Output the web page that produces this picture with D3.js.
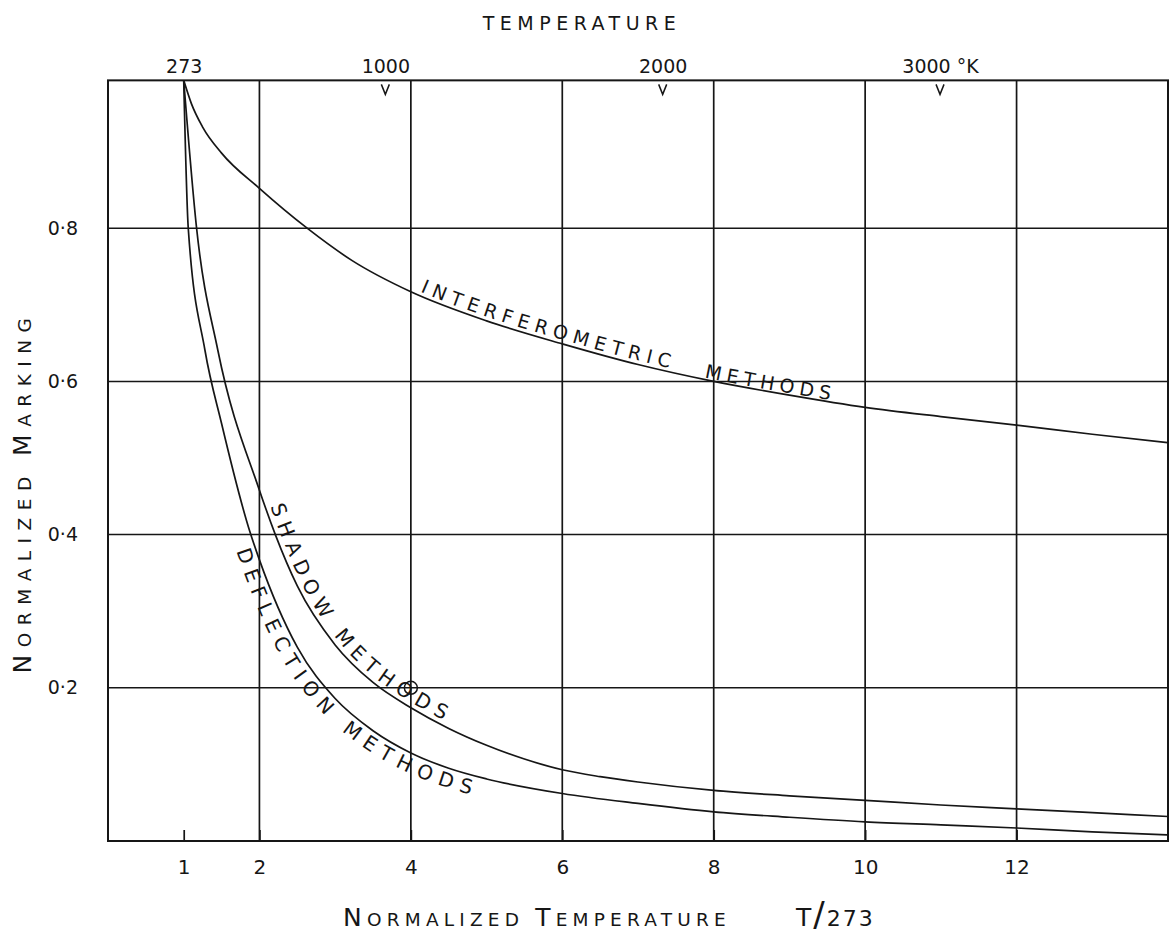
<!DOCTYPE html>
<html><head><meta charset="utf-8">
<script src="https://cdn.jsdelivr.net/npm/d3@7"></script>
<style>
body{margin:0;background:#fff}
svg{display:block}
text{font-family:"DejaVu Sans","Liberation Sans",sans-serif;fill:#161616}
</style>
</head><body>
<svg id="c" width="1172" height="937"></svg>
<script>
// ---- data (x = T/273, y = normalized marking) ----
const interferometric = [[1,0.993],[1.1,0.963],[1.25,0.932],[1.5,0.898],[2,0.852],[2.63,0.80],[3.22,0.758],[4,0.717],[5,0.679],[6,0.649],[7,0.622],[8,0.6],[9,0.582],[10,0.566],[11,0.554],[12,0.543],[13,0.531],[14,0.52]];
const shadow = [[1,0.993],[1.17,0.80],[1.45,0.641],[2,0.458],[2.21,0.40],[2.5,0.333],[3,0.256],[3.5,0.207],[4,0.174],[4.5,0.147],[5,0.125],[5.5,0.107],[6,0.093],[6.5,0.084],[7,0.077],[8,0.066],[9,0.059],[10,0.053],[11,0.047],[12,0.042],[13,0.037],[14,0.032]];
const deflection = [[1,0.993],[1.06,0.80],[1.28,0.641],[1.5,0.545],[1.87,0.405],[2,0.367],[2.5,0.253],[3,0.186],[3.5,0.144],[4,0.115],[4.5,0.095],[5,0.081],[6,0.062],[7,0.049],[8,0.038],[9,0.031],[10,0.025],[11,0.021],[12,0.017],[13,0.012],[14,0.008]];
const seriesNames = ["INTERFEROMETRIC METHODS","SHADOW METHODS","DEFLECTION METHODS"];
const xGridValues = [2,4,6,8,10,12];
const xTickValues = [1,2,4,6,8,10,12];
const xTickLabels = ["1","2","4","6","8","10","12"];
const yTickValues = [0.2,0.4,0.6,0.8];
const yTickLabels = ["0·2","0·4","0·6","0·8"];
const topTemps = [273,1000,2000,3000];
const topTempLabels = ["273","1000","2000","3000 °K"];
const markedTemps = [1000,2000,3000];
const refTemp = 273;
const markedPoint = [4,0.2];
const xDomain = [0,14];
const yMax = 0.993;

// ---- layout ----
const ink = "#161616";
const svg = d3.select("#c");
const x = d3.scaleLinear().domain(xDomain).range([108,1168]);
const y = d3.scaleLinear().domain([0,1]).range([841,75]);
const tempScale = d3.scaleLinear().domain([xDomain[0]*refTemp, xDomain[1]*refTemp]).range(x.range());

// grid
svg.append("g").selectAll("line").data(xGridValues).join("line")
  .attr("x1",d=>x(d)).attr("x2",d=>x(d)).attr("y1",y(0)).attr("y2",y(yMax))
  .attr("stroke",ink).attr("stroke-width",1.7);
svg.append("g").selectAll("line").data(yTickValues).join("line")
  .attr("x1",x(xDomain[0])).attr("x2",x(xDomain[1])).attr("y1",d=>y(d)).attr("y2",d=>y(d))
  .attr("stroke",ink).attr("stroke-width",1.5);
// frame
svg.append("rect").attr("x",x(xDomain[0])).attr("y",y(yMax))
  .attr("width",x(xDomain[1])-x(xDomain[0])).attr("height",y(0)-y(yMax))
  .attr("fill","none").attr("stroke",ink).attr("stroke-width",2);

const styleAxis = (a,size)=>{
  a.select(".domain").remove();
  a.attr("font-family",null).attr("font-size",null);
  a.selectAll("text").attr("font-size",size).attr("fill",ink);
  a.selectAll("line").attr("stroke",ink).attr("stroke-width",1.7);
};
// bottom axis
svg.append("g").attr("transform",`translate(0,${y(0)})`)
  .call(d3.axisBottom(x).tickValues(xTickValues).tickFormat((d,i)=>xTickLabels[i])
        .tickSizeInner(-11).tickSizeOuter(0).tickPadding(19))
  .call(a=>styleAxis(a,20));
// left axis
svg.append("g").attr("transform",`translate(${x(xDomain[0])},0)`)
  .call(d3.axisLeft(y).tickValues(yTickValues).tickFormat((d,i)=>yTickLabels[i]).tickSize(0).tickPadding(30))
  .call(a=>styleAxis(a,19));
// top temperature axis
svg.append("g").attr("transform",`translate(0,${y(yMax)})`)
  .call(d3.axisTop(tempScale).tickValues(topTemps).tickFormat((d,i)=>topTempLabels[i]).tickSize(0).tickPadding(7))
  .call(a=>styleAxis(a,19));
// "v" marks under top border
svg.append("g").selectAll("path").data(markedTemps).join("path")
  .attr("d",d=>{const cx=tempScale(d), t=y(yMax)+4; return `M${cx-4},${t}L${cx},${t+10}L${cx+4},${t}`;})
  .attr("fill","none").attr("stroke",ink).attr("stroke-width",1.5);

// curves
const line = d3.line().x(d=>x(d[0])).y(d=>y(d[1])).curve(d3.curveMonotoneX);
const series = [["interf",interferometric],["shadow",shadow],["defl",deflection]];
svg.append("g").selectAll("path").data(series).join("path")
  .attr("id",d=>d[0]).attr("d",d=>line(d[1]))
  .attr("fill","none").attr("stroke",ink).attr("stroke-width",1.7);

// marked point
svg.append("circle").attr("cx",x(markedPoint[0])).attr("cy",y(markedPoint[1])).attr("r",6.5)
  .attr("fill","none").attr("stroke",ink).attr("stroke-width",1.5);

// labels along curves
function lengthAtX(node,xv){
  const target=x(xv); let lo=0, hi=node.getTotalLength();
  for(let i=0;i<40;i++){const m=(lo+hi)/2; if(node.getPointAtLength(m).x<target) lo=m; else hi=m;}
  return (lo+hi)/2;
}
const interfWords = seriesNames[0].split(" ");
const curveLabels = [
  {id:"interf",text:interfWords[0],from:4.1,to:7.4,dy:-4,size:19},
  {id:"interf",text:interfWords[1],from:7.87,to:9.53,dy:-2,size:19},
  {id:"shadow",text:seriesNames[1],from:2.08,to:4.4,dy:-5,size:20},
  {id:"defl",text:seriesNames[2],from:1.93,to:4.85,dy:19,size:20}
];
curveLabels.forEach(l=>{
  const node=d3.select("#"+l.id).node();
  const L0=lengthAtX(node,l.from), L1=lengthAtX(node,l.to);
  const t=svg.append("text").attr("font-size",l.size).attr("dy",l.dy);
  t.append("textPath").attr("href","#"+l.id).attr("startOffset",L0).text(l.text);
  const nat=t.node().getComputedTextLength();
  t.attr("letter-spacing",Math.max(0,(L1-L0-nat)/(l.text.length-1)));
});

// titles (hand-lettered style: larger initials)
function title(sel,parts){
  parts.forEach(p=>sel.append("tspan").attr("font-size",p[1]).text(p[0]));
  return sel;
}
title(svg.append("text").attr("x",582).attr("y",30).attr("text-anchor","middle").attr("letter-spacing",5.5),
  [["TEMPERATURE",19]]);
title(svg.append("text").attr("x",343).attr("y",926).attr("letter-spacing",5.2),
  [["N",25],["ORMALIZED ",18.5],["T",25],["EMPERATURE",18.5]]);
title(svg.append("text").attr("x",796).attr("y",926).attr("letter-spacing",2),
  [["T",25],["/",34],["273",22]]);
title(svg.append("text").attr("transform","translate(31,492) rotate(-90)").attr("text-anchor","middle").attr("letter-spacing",7.5),
  [["N",25],["ORMALIZED  ",18.5],["M",25],["ARKING",18.5]]);
</script>
</body></html>
